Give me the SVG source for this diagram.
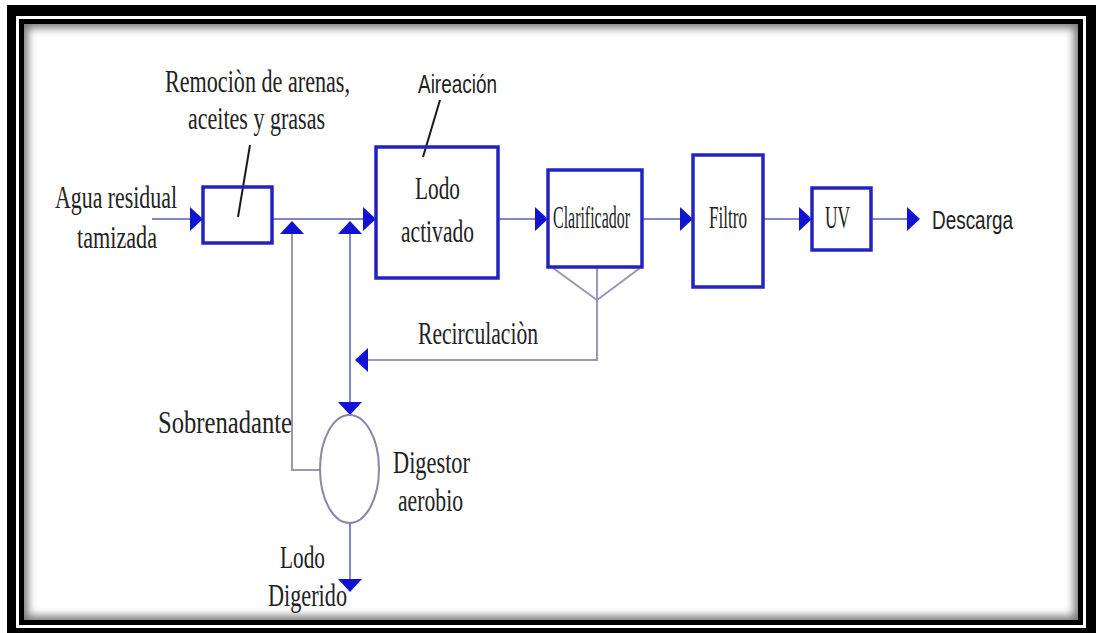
<svg xmlns="http://www.w3.org/2000/svg" width="1096" height="633" viewBox="0 0 1096 633">
<style>
.t{font-family:"Liberation Serif","Times New Roman",serif;font-size:31px;fill:#222}
.s{font-family:"Liberation Sans",Arial,sans-serif;font-size:25px;fill:#222}
.box{fill:none;stroke:#2323c4;stroke-width:3.5}
.ln{fill:none;stroke:#8585c6;stroke-width:2}
.gl{fill:none;stroke:#9a98b4;stroke-width:2}
.ld{fill:none;stroke:#1a1a1a;stroke-width:2}
.ah{fill:#1212d2}
</style>
<defs>
<path id="ah" d="M0,0 L-13,-12 L-13,12 Z"/>
<filter id="bl" x="-5%" y="-5%" width="110%" height="110%"><feGaussianBlur stdDeviation="4"/></filter>
<clipPath id="ic"><rect x="24" y="24" width="1054" height="596"/></clipPath>
</defs>
<g id="frame">
<rect x="0" y="0" width="1096" height="633" fill="#fff"/>
<rect x="7" y="5" width="1089" height="628" fill="#000"/>
<rect x="16" y="16" width="1070" height="612" fill="#fff"/>
<rect x="19" y="19" width="1064" height="606" fill="#000"/>
<rect x="24" y="24" width="1054" height="596" fill="#777"/>
<g clip-path="url(#ic)"><rect x="28" y="28" width="1046" height="588" fill="#fff" filter="url(#bl)"/></g>
</g>
<g id="connectors">
<line class="ln" x1="152" y1="219" x2="192" y2="219"/>
<line class="ln" x1="272" y1="219" x2="365" y2="219"/>
<line class="ln" x1="498" y1="219" x2="537" y2="219"/>
<line class="ln" x1="642" y1="219" x2="682" y2="219"/>
<line class="ln" x1="763" y1="219" x2="801" y2="219"/>
<line class="ln" x1="871" y1="219" x2="909" y2="219"/>
<polyline class="gl" points="553,268 597,300 640,268"/>
<polyline class="gl" points="597,268 597,360 366,360"/>
<line class="ln" x1="350" y1="232" x2="350" y2="404"/>
<polyline class="gl" points="320,470 292,470 292,232"/>
<line class="ln" x1="350" y1="523" x2="350" y2="581"/>
<use href="#ah" class="ah" transform="translate(203,219)"/>
<use href="#ah" class="ah" transform="translate(376,219)"/>
<use href="#ah" class="ah" transform="translate(548,219)"/>
<use href="#ah" class="ah" transform="translate(693,219)"/>
<use href="#ah" class="ah" transform="translate(812,219)"/>
<use href="#ah" class="ah" transform="translate(920,219)"/>
<use href="#ah" class="ah" transform="translate(355,360) rotate(180)"/>
<use href="#ah" class="ah" transform="translate(292,221) rotate(-90)"/>
<use href="#ah" class="ah" transform="translate(350,221) rotate(-90)"/>
<use href="#ah" class="ah" transform="translate(350,415) rotate(90)"/>
<use href="#ah" class="ah" transform="translate(350,592) rotate(90)"/>
<line class="ld" x1="250" y1="145" x2="238" y2="217"/>
<line class="ld" x1="440" y1="100" x2="423" y2="157"/>
</g>
<g id="entrada">
<text class="t" x="55" y="208" textLength="122" lengthAdjust="spacingAndGlyphs">Agua residual</text>
<text class="t" x="77" y="248" textLength="80" lengthAdjust="spacingAndGlyphs">tamizada</text>
</g>
<g id="remocion">
<rect class="box" x="203" y="187" width="69" height="56"/>
<text class="t" x="165" y="92" textLength="185" lengthAdjust="spacingAndGlyphs">Remociòn de arenas,</text>
<text class="t" x="188" y="129" textLength="137" lengthAdjust="spacingAndGlyphs">aceites y grasas</text>
</g>
<g id="lodo-activado">
<rect class="box" x="376" y="147" width="122" height="131"/>
<text class="t" x="415" y="199" textLength="45" lengthAdjust="spacingAndGlyphs">Lodo</text>
<text class="t" x="401" y="242" textLength="73" lengthAdjust="spacingAndGlyphs">activado</text>
<text class="s" x="418" y="93" textLength="79" lengthAdjust="spacingAndGlyphs">Aireación</text>
</g>
<g id="clarificador">
<rect class="box" x="548" y="170" width="94" height="97"/>
<text class="t" x="553" y="228" font-size="27" textLength="77" lengthAdjust="spacingAndGlyphs">Clarificador</text>
</g>
<g id="filtro">
<rect class="box" x="693" y="155" width="70" height="132"/>
<text class="t" x="709" y="228" font-size="27" textLength="38" lengthAdjust="spacingAndGlyphs">Filtro</text>
</g>
<g id="uv">
<rect class="box" x="812" y="188" width="59" height="62"/>
<text class="t" x="825" y="228" font-size="27" textLength="25" lengthAdjust="spacingAndGlyphs">UV</text>
</g>
<g id="descarga">
<text class="s" x="932" y="229" textLength="81" lengthAdjust="spacingAndGlyphs">Descarga</text>
</g>
<g id="recirculacion">
<text class="t" x="418" y="344" textLength="120" lengthAdjust="spacingAndGlyphs">Recirculaciòn</text>
</g>
<g id="sobrenadante">
<text class="t" x="158" y="433" textLength="134" lengthAdjust="spacingAndGlyphs">Sobrenadante</text>
</g>
<g id="digestor">
<ellipse cx="349.5" cy="469" rx="29.5" ry="54" fill="none" stroke="#8a88a4" stroke-width="2"/>
<text class="t" x="393" y="473" textLength="77" lengthAdjust="spacingAndGlyphs">Digestor</text>
<text class="t" x="398" y="511" textLength="65" lengthAdjust="spacingAndGlyphs">aerobio</text>
</g>
<g id="lodo-digerido">
<text class="t" x="280" y="568" textLength="45" lengthAdjust="spacingAndGlyphs">Lodo</text>
<text class="t" x="268" y="606" textLength="79" lengthAdjust="spacingAndGlyphs">Digerido</text>
</g>
</svg>
